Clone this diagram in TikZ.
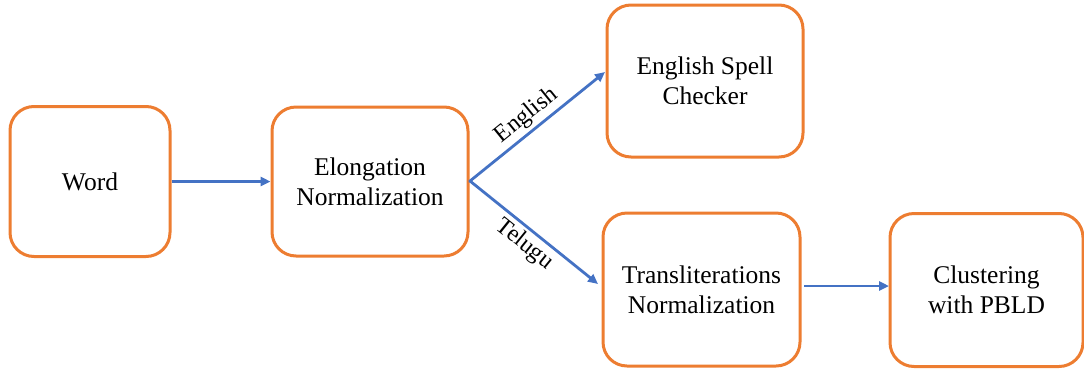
\documentclass[tikz,border=0pt]{standalone}
\usepackage{fontspec}
\setmainfont{Liberation Serif}
\newfontfamily\diagserif{Liberation Serif}
\usetikzlibrary{arrows.meta,calc}
\definecolor{boxorange}{RGB}{237,125,49}
\definecolor{arrowblue}{RGB}{68,114,196}
\begin{document}
\begin{tikzpicture}[x=1pt,y=-1pt,
  stepbox/.style={draw=boxorange, line width=3pt, rounded corners=24pt, fill=white,
    inner sep=0pt, align=center, font=\diagserif\fontsize{25.5}{30}\selectfont},
  flow/.style={draw=arrowblue, line width=2.8pt, -{Triangle[length=10pt,width=9pt]}},
  lbl/.style={font=\diagserif\fontsize{24}{26}\selectfont, inner sep=3pt}]
\useasboundingbox (0,0) rectangle (1084,373);
\node[stepbox, minimum width=160pt, minimum height=150pt] (word) at (90,181.5) {Word};
\node[stepbox, minimum width=196pt, minimum height=149pt] (elong) at (370,181.5) {Elongation\\Normalization};
\node[stepbox, minimum width=196pt, minimum height=152pt] (eng) at (705,81) {English Spell\\Checker};
\node[stepbox, minimum width=197pt, minimum height=153pt] (trans) at (701.5,289.5) {Transliterations\\Normalization};
\node[stepbox, minimum width=193pt, minimum height=153pt] (clus) at (986.5,290) {Clustering\\with PBLD};
\coordinate (br) at (470,181);
\coordinate (engtip) at (605,72);
\coordinate (teltip) at (598,284);
\coordinate (tstart) at (804,286);
\coordinate (ctip) at (889,286);
\draw[flow] (word.east) -- (elong.west);
\draw[arrowblue, line width=2.8pt, line cap=round] (elong.east) -- (br);
\draw[flow] (br) -- node[lbl, sloped, above, pos=0.49] (englbl) {English} (engtip);
\draw[flow] (br) -- node[lbl, sloped, below, pos=0.5] (tellbl) {Telugu} (teltip);
\draw[flow] (tstart) -- (ctip);
\end{tikzpicture}
\end{document}
